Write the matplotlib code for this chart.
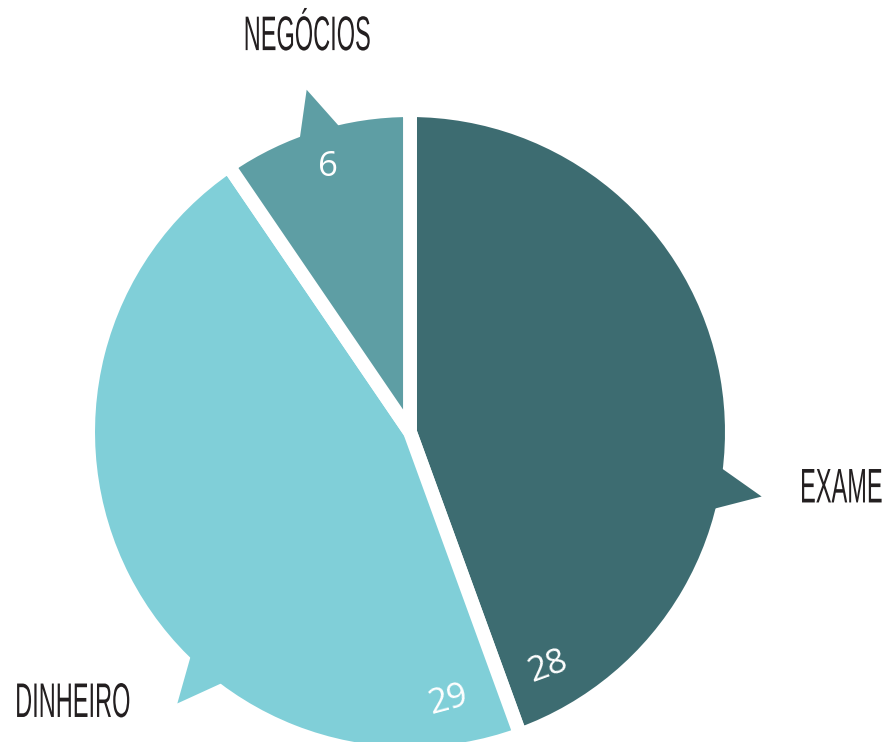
import numpy as np
import matplotlib
matplotlib.use("Agg")
import matplotlib.pyplot as plt
from matplotlib.patches import Polygon
from matplotlib.patheffects import AbstractPathEffect
from matplotlib.transforms import Affine2D

# data
categories = ["EXAME", "DINHEIRO", "NEGÓCIOS"]
values = [28, 29, 6]
colors = ["#3d6c71", "#80cfd8", "#5e9ea4"]

# per-slice placement (angles in degrees, radii relative to the pie)
pointer_angles = [-10.4, 229.4, 106.8]
value_angles = [-59.6, -81.9, 107.2]
value_radii = [0.865, 0.86, 0.88]
value_rotation = [20, 15, 0]
name_pos = [(1.504, -0.184, "right"), (-1.26, -0.865, "left"), (-0.327, 1.252, "center")]


class Narrow(AbstractPathEffect):
    """Squeeze glyphs horizontally to mimic a condensed typeface."""

    def __init__(self, sx, anchor="center"):
        super().__init__()
        self.sx = sx
        self.anchor = anchor

    def draw_path(self, renderer, gc, tpath, affine, rgbFace=None):
        bb = tpath.get_extents(affine)
        if self.anchor == "left":
            x0 = bb.x0
        elif self.anchor == "right":
            x0 = bb.x1
        else:
            x0 = (bb.x0 + bb.x1) / 2
        squeeze = Affine2D().translate(-x0, 0).scale(self.sx, 1).translate(x0, 0)
        renderer.draw_path(gc, tpath, affine + squeeze, rgbFace)


fig = plt.figure(figsize=(8.88, 7.42), dpi=100)
ax = fig.add_axes([0, 0, 1, 1])

R = 315.0
wedges, _ = ax.pie(
    values,
    colors=colors,
    startangle=90,
    counterclock=False,
    radius=1.022,
    wedgeprops={"edgecolor": "white", "linewidth": 10},
)

# callout pointers on each slice
for ang, col in zip(pointer_angles, colors):
    a = np.deg2rad(ang)
    half = np.deg2rad(4.6)
    pts = [
        (0.97 * np.cos(a - half), 0.97 * np.sin(a - half)),
        (1.135 * np.cos(a), 1.135 * np.sin(a)),
        (0.97 * np.cos(a + half), 0.97 * np.sin(a + half)),
    ]
    ax.add_patch(Polygon(pts, closed=True, facecolor=col, edgecolor="none", zorder=3))

# values inside slices
for v, ang, r, rot in zip(values, value_angles, value_radii, value_rotation):
    a = np.deg2rad(ang)
    ax.text(r * np.cos(a), r * np.sin(a), str(v), color="white",
            fontsize=25, family="Open Sans", ha="center", va="center",
            rotation=rot, zorder=5)

# category names
for name, (x, y, ha) in zip(categories, name_pos):
    ax.text(x, y, name, color="#231f20", fontsize=35, family="Liberation Sans",
            ha=ha, va="center", zorder=5,
            path_effects=[Narrow(0.485, anchor=ha)])

ax.set_xlim(-410 / R, 478 / R)
ax.set_ylim(-310 / R, 432 / R)
ax.set_aspect("equal")
ax.axis("off")

fig.savefig("out.png", dpi=100)
plt.close(fig)
